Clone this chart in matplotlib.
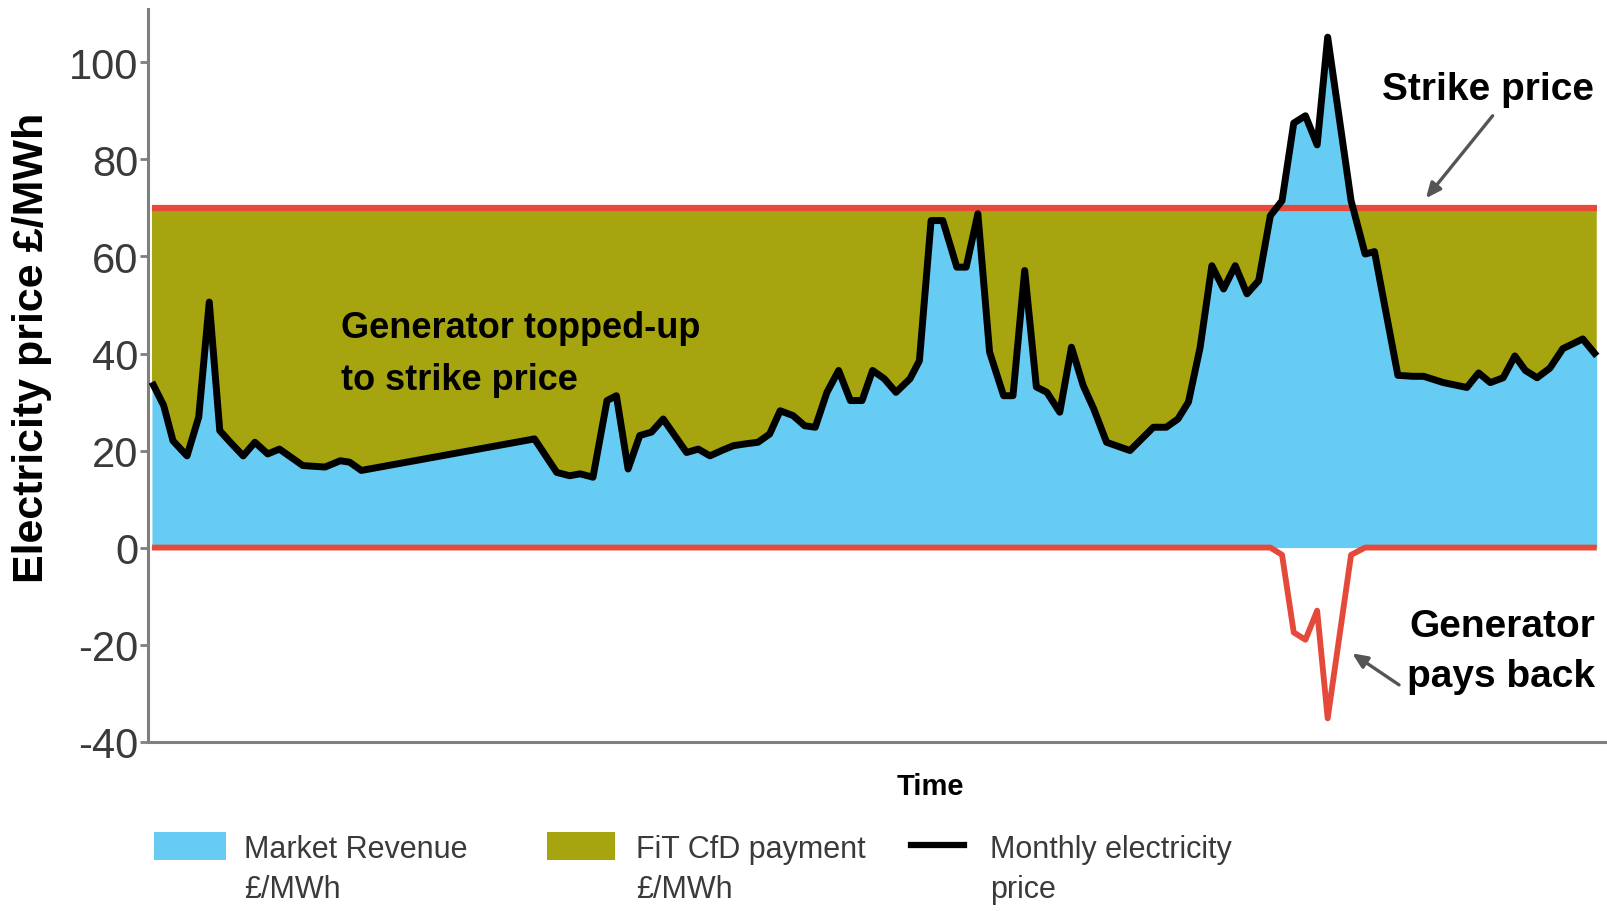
import numpy as np
import matplotlib.pyplot as plt
from matplotlib.patches import Rectangle
from matplotlib.lines import Line2D

# ============================================================
# Data
# ============================================================
STRIKE = 70

# time in months (gap between ~18 and ~33 is a straight join)
months = [
    0.0, 1.0, 1.8, 3.0, 4.0, 4.9, 5.8, 6.7, 7.8, 8.8,
    9.9, 10.9, 12.9, 14.8, 16.1, 16.9, 17.9, 32.7, 34.6, 35.7,
    36.6, 37.7, 38.9, 39.7, 40.7, 41.7, 42.7, 43.7, 45.7, 46.7,
    47.7, 48.7, 49.7, 50.8, 51.8, 52.8, 53.7, 54.8, 55.8, 56.7,
    57.7, 58.7, 59.7, 60.7, 61.6, 62.6, 63.6, 64.8, 65.6, 66.6,
    67.6, 68.8, 69.6, 70.6, 71.6, 72.8, 73.6, 74.6, 75.6, 76.5,
    77.6, 78.6, 79.6, 80.5, 81.6, 83.6, 85.6, 86.7, 87.7, 88.6,
    89.6, 90.6, 91.6, 92.6, 93.6, 94.6, 95.6, 96.6, 97.6, 98.6,
    99.6, 100.5, 102.5, 103.7, 104.5, 106.5, 107.8, 108.7, 110.4, 112.4,
    113.4, 114.4, 115.5, 116.5, 117.4, 118.4, 119.5, 120.6, 122.3, 123.5,
]

price = [
    34.1, 29.3, 22.0, 18.9, 26.9, 50.6, 24.1, 21.7, 18.9, 21.7,
    19.3, 20.3, 16.9, 16.6, 17.9, 17.6, 15.9, 22.4, 15.5, 14.8,
    15.2, 14.5, 30.3, 31.3, 16.2, 23.1, 23.8, 26.5, 19.6, 20.3,
    18.9, 20.0, 21.0, 21.4, 21.7, 23.4, 28.2, 27.2, 25.1, 24.8,
    32.0, 36.5, 30.3, 30.3, 36.5, 34.8, 32.0, 34.8, 38.5, 67.4,
    67.4, 57.8, 57.8, 68.8, 40.3, 31.3, 31.3, 57.1, 33.1, 32.0,
    27.9, 41.3, 33.4, 28.6, 21.7, 20.0, 24.8, 24.8, 26.5, 30.0,
    41.3, 58.1, 53.3, 58.1, 52.3, 55.0, 68.4, 71.5, 87.5, 89.0,
    83.0, 105.2, 71.5, 60.5, 61.0, 35.5, 35.3, 35.3, 34.0, 33.0,
    36.0, 34.0, 35.0, 39.5, 36.5, 35.0, 37.0, 41.0, 43.0, 39.5,
]

Y_TICKS = [-40, -20, 0, 20, 40, 60, 80, 100]

LEGEND_LABELS = ["Market Revenue\n£/MWh", "FiT CfD payment\n£/MWh",
                 "Monthly electricity\nprice"]

# ============================================================
# Style
# ============================================================
BLUE = "#66CCF4"
OLIVE = "#A6A40F"
RED = "#E5493A"
GREY = "#7F7F7F"
TEXT_GREY = "#3A3A3A"

FONT = ["Liberation Sans", "DejaVu Sans"]

t = np.array(months)
p = np.array(price)
payback = np.minimum(0, STRIKE - p)

fig = plt.figure(figsize=(16.08, 9.12), dpi=100)
ax = fig.add_axes([0.0923, 0.1857, 0.9058, 0.8033])

# ============================================================
# Plot
# ============================================================
ax.fill_between(t, 0, p, color=BLUE, lw=0, zorder=1)
ax.fill_between(t, p, STRIKE, where=p < STRIKE, interpolate=True,
                color=OLIVE, lw=0, zorder=1)
ax.plot([t[0], t[-1]], [STRIKE, STRIKE], color=RED, lw=4.5, zorder=2,
        solid_capstyle="butt")
ax.plot(t, payback, color=RED, lw=4.2, zorder=2, solid_capstyle="butt")
ax.plot(t, p, color="black", lw=5.0, zorder=3, solid_capstyle="butt")

ax.set_xlim(-0.3, 124.2)
ax.set_ylim(-40, 111)
ax.set_xticks([])
ax.set_yticks(Y_TICKS)
ax.set_yticklabels([str(v) for v in Y_TICKS], family=FONT, fontsize=30,
                   color=TEXT_GREY)
ax.tick_params(axis="y", length=6, width=2, color=GREY, pad=1.5)

for side in ["top", "right"]:
    ax.spines[side].set_visible(False)
for side in ["left", "bottom"]:
    ax.spines[side].set_color(GREY)
    ax.spines[side].set_linewidth(2.2)

ax.set_ylabel("Electricity price £/MWh", family=FONT, fontsize=31,
              fontweight="bold", color="black")
ax.yaxis.set_label_coords(-0.066, 0.539)

ax.set_xlabel("Time", family=FONT, fontsize=21, fontweight="bold",
              color="black")
ax.xaxis.set_label_coords(0.537, -0.042)
ax.xaxis.label.set_va("top")

# annotations
ax.text(16.2, 40.0, "Generator topped-up\nto strike price", family=FONT,
        fontsize=26, fontweight="bold", color="black", ha="left",
        va="center", linespacing=1.65, zorder=4)
ax.text(114.2, 94.6, "Strike price", family=FONT, fontsize=28,
        fontweight="bold", color="black", ha="center", va="center",
        zorder=4)
ax.text(123.4, -21.3, "Generator\npays back", family=FONT, fontsize=28,
        fontweight="bold", color="black", ha="right", va="center",
        linespacing=1.5, zorder=4)

arrow_style = dict(arrowstyle="-|>,head_length=0.9,head_width=0.4",
                   color="#555555", lw=2.4, shrinkA=0, shrinkB=0)
ax.annotate("", xy=(108.9, 72.0), xytext=(114.6, 89.0),
            arrowprops=arrow_style, zorder=4)
ax.annotate("", xy=(102.6, -21.8), xytext=(106.6, -28.3),
            arrowprops=arrow_style, zorder=4)

# ============================================================
# Legend (drawn under the axes, swatch aligned with first text line)
# ============================================================
W, H = 1608.0, 912.0


def fx(px):
    return px / W


def fy(py):
    return 1 - py / H


fig.add_artist(Rectangle((fx(154), fy(861)), fx(226) - fx(154),
                         fy(833) - fy(861), color=BLUE, lw=0))
fig.add_artist(Rectangle((fx(547), fy(861)), fx(615) - fx(547),
                         fy(833) - fy(861), color=OLIVE, lw=0))
fig.add_artist(Line2D([fx(911), fx(964)], [fy(846), fy(846)],
                      color="black", lw=4.5))

for x_px, label in zip([244, 636, 990], LEGEND_LABELS):
    fig.text(fx(x_px), fy(870), label, family=FONT, fontsize=22,
             color=TEXT_GREY, ha="left", va="center", linespacing=1.45)

fig.savefig("out.png", dpi=100)
